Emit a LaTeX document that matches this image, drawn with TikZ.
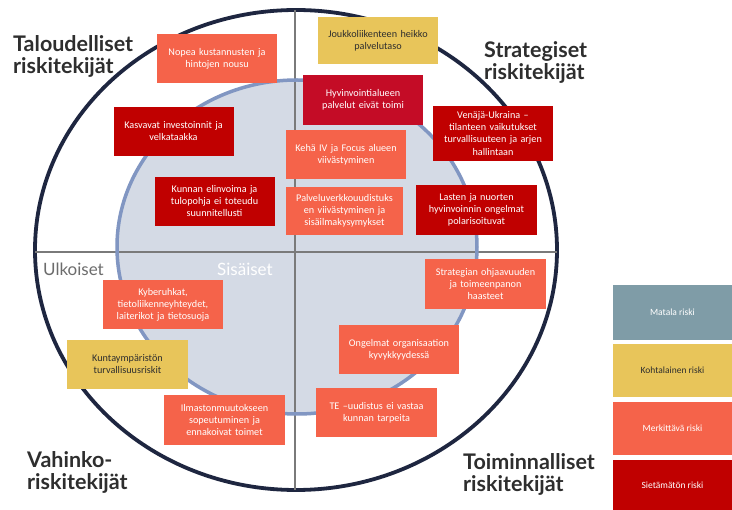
\documentclass[tikz,border=0pt]{standalone}
\usepackage{fontspec}
\setmainfont{Carlito}
\newfontfamily\headfont{Lato}
\definecolor{salm}{HTML}{F5634A}
\definecolor{dred}{HTML}{C00000}
\definecolor{crim}{HTML}{C40C26}
\definecolor{yell}{HTML}{E8C55A}
\definecolor{lowc}{HTML}{7F9CA7}
\definecolor{navy}{HTML}{1E2640}
\definecolor{innerfill}{HTML}{D4DAE5}
\definecolor{innerline}{HTML}{8196C2}
\definecolor{gridc}{HTML}{7A7A7A}
\definecolor{headc}{HTML}{2E2E2E}
\tikzset{
  rbox/.style={rectangle, inner sep=1pt, align=center, text width=116pt,
    minimum width=120pt, minimum height=49pt,
    font=\fontsize{10.2}{12}\selectfont},
  sbox/.style={rbox, fill=salm, text=white},
  dbox/.style={rbox, fill=dred, text=white},
  cbox/.style={rbox, fill=crim, text=white},
  ybox/.style={rbox, fill=yell, text=headc},
  lbox/.style={rectangle, inner sep=1pt, align=center, minimum width=119pt,
    font=\fontsize{9.5}{11}\selectfont},
  heading/.style={anchor=north west, align=left, inner sep=0pt, text=headc,
    font=\headfont\bfseries\fontsize{21.5}{22}\selectfont},
  quad/.style={anchor=west, inner sep=0pt, font=\headfont\fontsize{17}{18}\selectfont}
}
\begin{document}
\begin{tikzpicture}[x=1pt,y=-1pt]
\useasboundingbox (0,0) rectangle (732,510);
\fill[white] (0,0) rectangle (732,510);
% circles
\draw[navy, line width=3.8pt] (296,250) ellipse [x radius=261, y radius=240];
\fill[innerfill] (297,247) ellipse [x radius=180, y radius=167];
\coordinate (vt) at (295,10);
\coordinate (vb) at (295,490);
\coordinate (hl) at (35,252);
\coordinate (hr) at (557,252);
\draw[gridc, line width=1.6pt] (vt) -- (vb);
\draw[gridc, line width=1.6pt] (hl) -- (hr);
\draw[innerline, line width=3.5pt] (297,247) ellipse [x radius=180, y radius=167];
% headings
\node[heading] (tal) at (13,35) {Taloudelliset\\riskitekijät};
\node[heading] (str) at (484,41) {Strategiset\\riskitekijät};
\node[heading] (vah) at (27,451) {Vahinko-\\riskitekijät};
\node[heading] (toi) at (463,453) {Toiminnalliset\\riskitekijät};
\node[quad, text=gray!85!black] (ulk) at (43,269) {Ulkoiset};
\node[quad, text=white] (sis) at (217,269) {Sisäiset};
% risk boxes
\node[sbox] (b1) at (217,59) {Nopea kustannusten ja\\hintojen nousu};
\node[dbox] (b2) at (173.5,131.5) {Kasvavat investoinnit ja\\velkataakka};
\node[dbox] (b3) at (214.5,201.5) {Kunnan elinvoima ja\\tulopohja ei toteudu\\suunnitellusti};
\node[ybox, minimum height=47pt] (b4) at (378,40.5) {Joukkoliikenteen heikko\\palvelutaso};
\node[cbox, minimum height=50pt] (b5) at (363,100) {Hyvinvointialueen\\palvelut eivät toimi};
\node[sbox] (b6) at (346,154.5) {Kehä IV ja Focus alueen\\viivästyminen};
\node[sbox, minimum width=117pt, minimum height=48pt, text width=114pt] (b7) at (344.5,211) {Palveluverkkouudistuks\\en viivästyminen ja\\sisäilmakysymykset};
\node[dbox, minimum height=55pt] (b8) at (493,133.5) {Venäjä-Ukraina –\\tilanteen vaikutukset\\turvallisuuteen ja arjen\\hallintaan};
\node[dbox, minimum width=121pt, minimum height=50pt] (b9) at (476.5,210) {Lasten ja nuorten\\hyvinvoinnin ongelmat\\polarisoituvat};
\node[sbox] (b10) at (163,304.5) {Kyberuhkat,\\tietoliikenneyhteydet,\\laiterikot ja tietosuoja};
\node[ybox, minimum width=121pt] (b11) at (127.5,364.5) {Kuntaympäristön\\turvallisuusriskit};
\node[sbox, minimum width=121pt, minimum height=50pt] (b12) at (224.5,420) {Ilmastonmuutokseen\\sopeutuminen ja\\ennakoivat toimet};
\node[sbox, minimum width=121pt, minimum height=50pt] (b13) at (485.5,284) {Strategian ohjaavuuden\\ja toimeenpanon\\haasteet};
\node[sbox] (b14) at (399,349.5) {Ongelmat organisaation\\kyvykkyydessä};
\node[sbox, minimum width=121pt] (b15) at (376.5,412.5) {TE –uudistus ei vastaa\\kunnan tarpeita};
% legend
\node[lbox, fill=lowc, text=white, minimum height=55pt] (l1) at (672.5,312.5) {Matala riski};
\node[lbox, fill=yell, text=headc, minimum height=53pt] (l2) at (672.5,370.5) {Kohtalainen riski};
\node[lbox, fill=salm, text=white, minimum height=53pt] (l3) at (672.5,428.5) {Merkittävä riski};
\node[lbox, fill=dred, text=white, minimum height=50pt] (l4) at (672.5,485) {Sietämätön riski};
\end{tikzpicture}
\end{document}
